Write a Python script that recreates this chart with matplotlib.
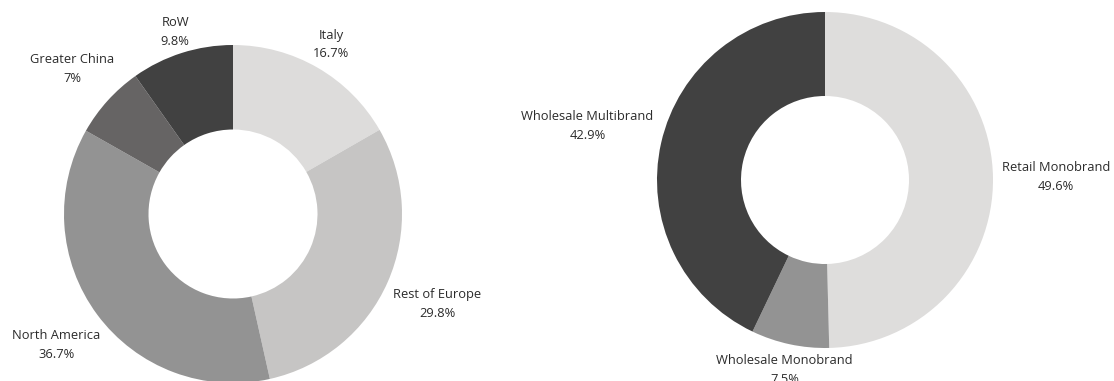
import numpy as np
import matplotlib.pyplot as plt

plt.rcParams['font.family'] = ['Open Sans', 'DejaVu Sans']

# 地区销售占比
region_labels = ["Italy", "Rest of Europe", "North America", "Greater China", "RoW"]
region_values = [16.7, 29.8, 36.7, 7, 9.8]
region_colors = ["#dddcdb", "#c6c5c4", "#939393", "#666464", "#414141"]
region_label_dist = [1.16, 1.32, 1.30, 1.28, 1.13]

# 渠道销售占比
channel_labels = ["Retail Monobrand", "Wholesale Monobrand", "Wholesale Multibrand"]
channel_values = [49.6, 7.5, 42.9]
channel_colors = ["#dedddc", "#939393", "#414141"]
channel_label_dist = [1.375, 1.155, 1.45]

W, H = 1114, 381
fig = plt.figure(figsize=(W / 100, H / 100), dpi=100)

# 坐标轴位置按像素给出
ax1 = fig.add_axes([64 / W, (H - 383) / H, 338 / W, 338 / H])
ax2 = fig.add_axes([657 / W, (H - 348) / H, 336 / W, 336 / H])


def donut(ax, labels, values, colors, dists):
    wedges, _ = ax.pie(values, colors=colors, startangle=90, counterclock=False,
                       radius=1, wedgeprops=dict(width=0.5, linewidth=0))
    ax.set_aspect('auto')
    ax.set_xlim(-1, 1)
    ax.set_ylim(-1, 1)
    for w, lab, v, d in zip(wedges, labels, values, dists):
        ang = np.deg2rad((w.theta1 + w.theta2) / 2)
        ax.text(d * np.cos(ang), d * np.sin(ang), f"{lab}\n{v:g}%",
                ha='center', va='center', fontsize=9.3, color='#2b2b2b',
                linespacing=1.55, clip_on=False)


donut(ax1, region_labels, region_values, region_colors, region_label_dist)
donut(ax2, channel_labels, channel_values, channel_colors, channel_label_dist)

plt.savefig('out.png', dpi=100)
